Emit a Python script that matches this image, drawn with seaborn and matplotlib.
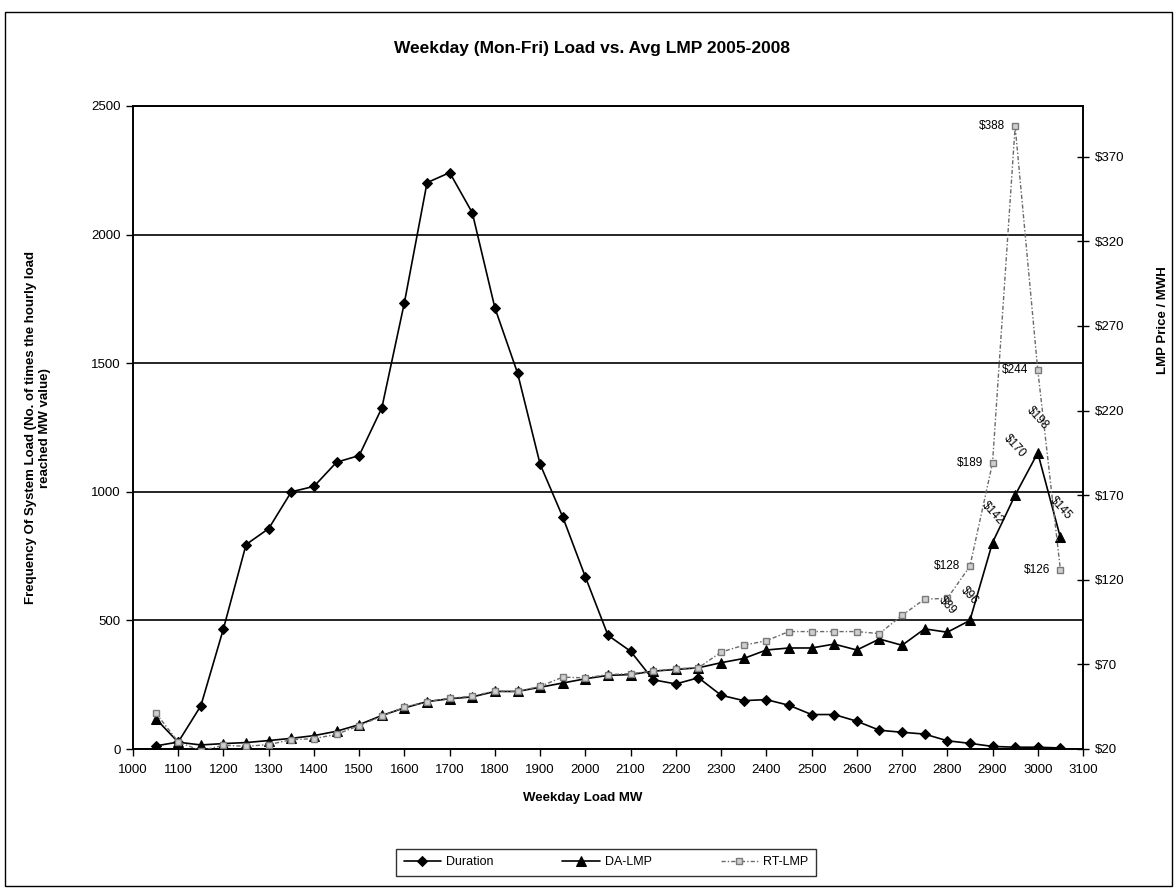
import matplotlib
matplotlib.use("Agg")
import matplotlib.pyplot as plt
import seaborn as sns
import pandas as pd
from matplotlib.patches import Rectangle
from matplotlib.ticker import FuncFormatter

# ---------------- data ----------------
load_mw = [1050, 1100, 1150, 1200, 1250, 1300, 1350, 1400, 1450, 1500,
           1550, 1600, 1650, 1700, 1750, 1800, 1850, 1900, 1950, 2000,
           2050, 2100, 2150, 2200, 2250, 2300, 2350, 2400, 2450, 2500,
           2550, 2600, 2650, 2700, 2750, 2800, 2850, 2900, 2950, 3000, 3050]
duration = [12, 27, 168, 468, 795, 857, 1000, 1021, 1115, 1141,
            1326, 1736, 2202, 2241, 2085, 1715, 1462, 1107, 902, 669,
            442, 380, 269, 253, 277, 209, 188, 192, 170, 134,
            134, 108, 73, 65, 58, 32, 22, 10, 7, 7, 4]
da_lmp = [38, 24, 22.4, 23.2, 23.8, 25, 26.3, 27.9, 30.5, 34.4,
          39.8, 44.3, 48, 49.7, 50.8, 54, 54, 56.5, 59, 61.5,
          63.5, 64, 66, 67, 68, 71, 73.5, 78.5, 79.7, 79.7,
          82, 78.5, 85, 81.3, 91, 89, 96, 142, 170, 195, 145]
rt_lmp = [41.4, 24.2, 19, 22.2, 21.6, 22.6, 25.5, 26.1, 28.7, 33.8,
          39.4, 44.7, 48, 50, 51.2, 54.3, 54, 57, 62.5, 62,
          64, 64.5, 66, 67.5, 68, 77.3, 81.3, 84, 89.4, 89.4,
          89.4, 89.4, 88.2, 99, 108.6, 109, 128, 189, 388, 244, 126]
series_names = ["Duration", "DA-LMP", "RT-LMP"]

x_ticks = [1000, 1100, 1200, 1300, 1400, 1500, 1600, 1700, 1800, 1900, 2000,
           2100, 2200, 2300, 2400, 2500, 2600, 2700, 2800, 2900, 3000, 3100]
left_ticks = [0, 500, 1000, 1500, 2000, 2500]
right_ticks = [20, 70, 120, 170, 220, 270, 320, 370]

rt_label_loads = [2850, 2900, 2950, 3000, 3050]
rt_label_text = ["$128", "$189", "$388", "$244", "$126"]
da_label_loads = [2800, 2850, 2900, 2950, 3000, 3050]
da_label_text = ["$89", "$96", "$142", "$170", "$198", "$145"]

title = "Weekday (Mon-Fri) Load vs. Avg LMP 2005-2008"
x_title = "Weekday Load MW"
left_title = "Frequency Of System Load (No. of times the hourly load\nreached MW value)"
right_title = "LMP Price / MWH"

# ---------------- style ----------------
sns.set_theme(style="white")
plt.rcParams["font.family"] = ["Liberation Sans", "DejaVu Sans"]
plt.rcParams["text.color"] = "black"
plt.rcParams["axes.labelcolor"] = "black"
plt.rcParams["xtick.color"] = "black"
plt.rcParams["ytick.color"] = "black"

W, H = 1176, 892
fig = plt.figure(figsize=(W / 100, H / 100), dpi=100)
fig.patch.set_facecolor("white")

L, R, T, B = 133, 1083, 106, 749
ax = fig.add_axes([L / W, 1 - B / H, (R - L) / W, (B - T) / H])
ax2 = ax.twinx()

df = pd.DataFrame({"load": load_mw, "duration": duration,
                   "da": da_lmp, "rt": rt_lmp})

sns.lineplot(data=df, x="load", y="duration", ax=ax, color="black",
             marker="D", markersize=5, markeredgecolor="black",
             linewidth=1.2, label=series_names[0], legend=False, zorder=3)
sns.lineplot(data=df, x="load", y="da", ax=ax2, color="black",
             marker="^", markersize=7, markeredgecolor="black",
             linewidth=1.2, label=series_names[1], legend=False, zorder=3)
sns.lineplot(data=df, x="load", y="rt", ax=ax2, color="#6a6a6a",
             marker="s", markersize=5, markerfacecolor="#cfcfcf",
             markeredgecolor="#7a7a7a", markeredgewidth=1,
             linewidth=1.0, label=series_names[2], legend=False, zorder=4)
rt_line = ax2.get_lines()[-1]
rt_line.set_dashes([3, 1.5, 1, 1.5])

ax.set_xlim(1000, 3100)
ax.set_ylim(0, 2500)
ax2.set_ylim(20, 400)
ax.set_xticks(x_ticks)
ax.set_yticks(left_ticks)
ax2.set_yticks(right_ticks)
ax2.yaxis.set_major_formatter(FuncFormatter(lambda v, p: "$%d" % v))
ax.set_xlabel("")
ax.set_ylabel("")
ax2.set_ylabel("")

ax.yaxis.grid(True, color="black", linewidth=1.2)
ax.xaxis.grid(False)
ax.set_axisbelow(True)
for a in (ax, ax2):
    for s in a.spines.values():
        s.set_visible(True)
        s.set_color("black")
        s.set_linewidth(1.2)

ax.tick_params(axis="x", direction="out", length=5, width=1, color="black",
               labelsize=9.5, pad=6, labelcolor="black", bottom=True)
ax.tick_params(axis="y", direction="out", length=5, width=1, color="black",
               labelsize=9.5, pad=4, labelcolor="black", left=True)
ax2.tick_params(axis="y", direction="inout", length=9, width=1, color="black",
                labelsize=9.5, pad=4, labelcolor="black", right=True)

# data labels
for ld, txt in zip(rt_label_loads, rt_label_text):
    yv = rt_lmp[load_mw.index(ld)]
    ax2.annotate(txt, (ld, yv), xytext=(-7, 0), textcoords="offset points",
                 ha="right", va="center", fontsize=8.5, color="black", zorder=6)
da_offsets = {2800: 19, 2850: 18, 2900: 21, 2950: 35, 3000: 25, 3050: 21}
for ld, txt in zip(da_label_loads, da_label_text):
    yv = da_lmp[load_mw.index(ld)]
    ax2.annotate(txt, (ld, yv), xytext=(0, da_offsets[ld]), textcoords="offset points",
                 ha="center", va="center", rotation=-48, fontsize=8.5,
                 color="black", zorder=6)

# titles
fig.text(592 / W, 1 - 48 / H, title, ha="center", va="center",
         fontsize=12.5, fontweight="bold", color="black")
fig.text(583 / W, 1 - 798 / H, x_title, ha="center", va="center",
         fontsize=9.5, fontweight="bold", color="black")
fig.text(38 / W, 1 - 428 / H, left_title, ha="center", va="center",
         rotation=90, fontsize=9.5, fontweight="bold", linespacing=1.3,
         color="black")
fig.text(1163 / W, 1 - 320 / H, right_title, ha="center", va="center",
         rotation=90, fontsize=9.5, fontweight="bold", color="black")

# legend
h1, l1 = ax.get_legend_handles_labels()
h2, l2 = ax2.get_legend_handles_labels()
leg = fig.legend(h1 + h2, l1 + l2, loc="center",
                 bbox_to_anchor=(606 / W, 1 - 862 / H), ncol=3,
                 frameon=True, fancybox=False, edgecolor="black",
                 fontsize=9, handlelength=3.0, columnspacing=5.5,
                 borderpad=0.6, handletextpad=0.4)
leg.get_frame().set_linewidth(1)
for t in leg.get_texts():
    t.set_color("black")

# outer chart border
fig.add_artist(Rectangle((5 / W, 1 - 886 / H), (1172 - 5) / W, (886 - 12) / H,
                         transform=fig.transFigure, fill=False,
                         edgecolor="black", linewidth=1))

fig.savefig("out.png", dpi=100, facecolor="white")
